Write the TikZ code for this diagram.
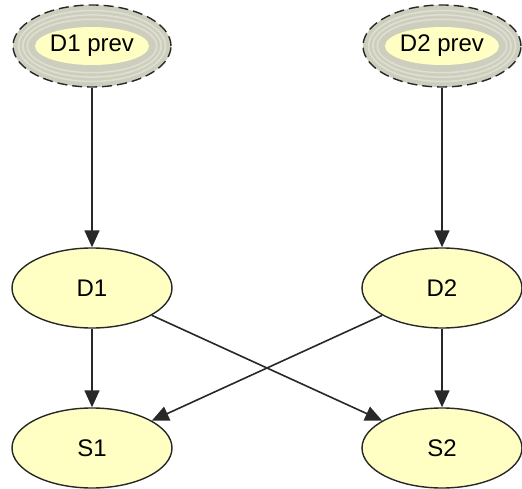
\documentclass[tikz,border=0pt]{standalone}
\usepackage{fontspec}
\setmainfont{Liberation Sans}
\usetikzlibrary{arrows.meta,shapes.geometric}
\definecolor{nodeyellow}{RGB}{255,255,196}
\definecolor{ringgray}{RGB}{206,206,190}
\definecolor{ringlight}{RGB}{224,224,210}
\definecolor{edgegray}{RGB}{40,40,40}
\begin{document}
\begin{tikzpicture}[x=1pt,y=1pt,
    var/.style={ellipse, draw=edgegray, line width=1.4pt, fill=nodeyellow,
        minimum width=160pt, minimum height=80pt, inner sep=0pt,
        font=\fontsize{24}{28}\selectfont},
    prevvar/.style={var, fill=ringgray, dash pattern=on 10pt off 5pt,
        minimum width=158pt, minimum height=82pt,
        path picture={
            \foreach \r in {0.35,0.55,0.75}
                \draw[ringlight, solid, line width=1.5pt] (path picture bounding box.center)
                    ellipse ({57pt+\r*22pt} and {19pt+\r*22pt});
            \fill[nodeyellow] (path picture bounding box.center)
                ellipse (57pt and 19pt);}},
    link/.style={draw=edgegray, line width=1.6pt,
        -{Triangle[length=17pt,width=15pt]}}]
    \useasboundingbox (0,0) rectangle (522,488);

    % Draw nodes
    \node[prevvar] (d1prev) at (92, 442) {D1 prev};
    \node[prevvar] (d2prev) at (442, 442) {D2 prev};
    \node[var] (d1) at (92, 200) {D1};
    \node[var] (d2) at (442, 200) {D2};
    \node[var] (s1) at (92, 40) {S1};
    \node[var] (s2) at (442, 40) {S2};

    % Draw directed edges
    \draw[link] (d1prev) -- (d1);
    \draw[link] (d2prev) -- (d2);
    \draw[link] (d1) -- (s1);
    \draw[link] (d1) -- (s2);
    \draw[link] (d2) -- (s1);
    \draw[link] (d2) -- (s2);
\end{tikzpicture}
\end{document}
